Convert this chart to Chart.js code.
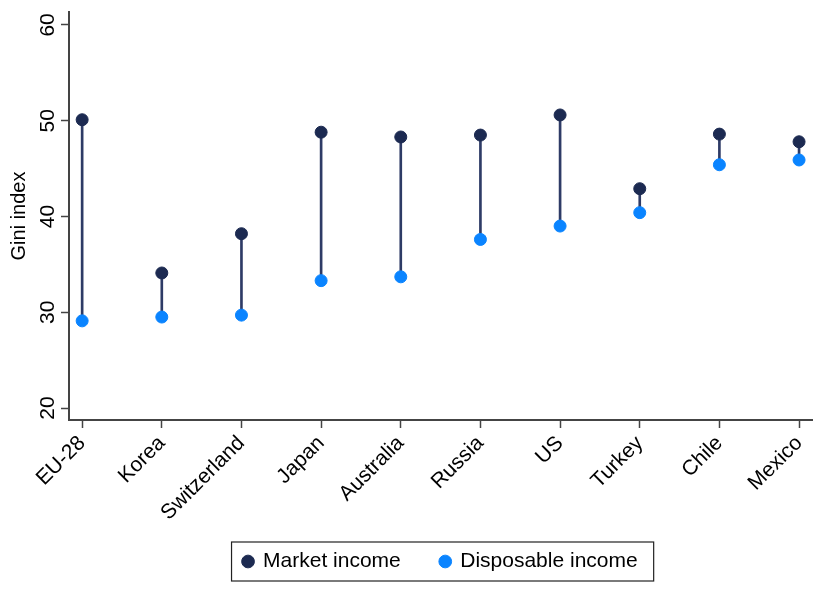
<!DOCTYPE html>
<html>
<head>
<meta charset="utf-8">
<script src="https://cdn.jsdelivr.net/npm/chart.js@4"></script>
<style>
  html, body { margin: 0; padding: 0; background: #fff; }
  #wrap { width: 820px; height: 598px; }
</style>
</head>
<body>
<div id="wrap"><canvas id="myChart"></canvas></div>
<script>
const countries = ['EU-28', 'Korea', 'Switzerland', 'Japan', 'Australia', 'Russia', 'US', 'Turkey', 'Chile', 'Mexico'];
const marketIncome = [50.1, 34.1, 38.2, 48.8, 48.3, 48.5, 50.6, 42.9, 48.6, 47.8];
const disposableIncome = [29.1, 29.5, 29.7, 33.3, 33.7, 37.6, 39.0, 40.4, 45.4, 45.9];
const yTicks = [20, 30, 40, 50, 60];

const FONT = 'Liberation Sans, Arial, sans-serif';
const axisColor = '#444';

// y tick labels are drawn rotated, like the original
const rotatedYLabels = {
    id: 'rotatedYLabels',
    afterDraw(chart) {
        const ctx = chart.ctx;
        const y = chart.scales.y;
        ctx.save();
        ctx.font = '21px ' + FONT;
        ctx.fillStyle = '#000';
        ctx.textAlign = 'center';
        ctx.textBaseline = 'middle';
        yTicks.forEach(v => {
            ctx.save();
            ctx.translate(48, y.getPixelForValue(v));
            ctx.rotate(-Math.PI / 2);
            ctx.fillText(String(v), 0, 0);
            ctx.restore();
        });
        ctx.restore();
    }
};

// centre the legend under the plot area, lift it a bit and frame it
const legendFrame = {
    id: 'legendFrame',
    afterLayout(chart) {
        const lg = chart.legend;
        const shift = (chart.chartArea.left + chart.chartArea.right) / 2 - (lg.left + lg.right) / 2;
        lg.left += shift;
        lg.right += shift;
        lg.top -= 9;
        lg.bottom -= 9;
    },
    afterDraw(chart) {
        const boxes = chart.legend.legendHitBoxes;
        if (!boxes || !boxes.length) return;
        const left = Math.min(...boxes.map(b => b.left)) - 12;
        const right = Math.max(...boxes.map(b => b.left + b.width)) + 16;
        const top = Math.min(...boxes.map(b => b.top));
        const bottom = Math.max(...boxes.map(b => b.top + b.height));
        const mid = (top + bottom) / 2;
        const ctx = chart.ctx;
        ctx.save();
        ctx.strokeStyle = '#222';
        ctx.lineWidth = 1.2;
        ctx.strokeRect(left, mid - 19.5, right - left, 39);
        ctx.restore();
    }
};

const ctx = document.getElementById('myChart');

new Chart(ctx, {
    data: {
        datasets: [
            {
                type: 'bar',
                label: 'range',
                data: countries.map((c, i) => ({ x: i, y: [disposableIncome[i], marketIncome[i]] })),
                backgroundColor: '#2e3b66',
                barThickness: 2,
                order: 3
            },
            {
                type: 'scatter',
                label: 'Market income',
                data: countries.map((c, i) => ({ x: i, y: marketIncome[i] })),
                backgroundColor: '#1c2a51',
                borderColor: '#1c2a51',
                pointRadius: 6,
                borderWidth: 1,
                order: 2
            },
            {
                type: 'scatter',
                label: 'Disposable income',
                data: countries.map((c, i) => ({ x: i, y: disposableIncome[i] })),
                backgroundColor: '#0a84ff',
                borderColor: '#0a84ff',
                pointRadius: 6,
                borderWidth: 1,
                order: 1
            }
        ]
    },
    options: {
        responsive: true,
        maintainAspectRatio: false,
        animation: false,
        events: [],
        layout: { padding: { top: 12, right: 6, left: 0, bottom: 7 } },
        plugins: {
            tooltip: { enabled: false },
            legend: {
                position: 'bottom',
                labels: {
                    filter: item => item.text !== 'range',
                    sort: (a, b) => a.datasetIndex - b.datasetIndex,
                    usePointStyle: true,
                    pointStyle: 'circle',
                    boxHeight: 9,
                    boxWidth: 9,
                    padding: 40,
                    color: '#000',
                    font: { family: FONT, size: 21 }
                }
            }
        },
        scales: {
            x: {
                type: 'linear',
                offset: false,
                min: -0.165,
                max: 9.165,
                afterBuildTicks: scale => {
                    scale.ticks = countries.map((c, i) => ({ value: i }));
                },
                afterFit: scale => { scale.height = 100; },
                grid: { offset: false, drawOnChartArea: false, tickLength: 8, tickColor: axisColor, tickWidth: 1.5 },
                border: { color: axisColor, width: 2 },
                ticks: {
                    autoSkip: false,
                    minRotation: 45,
                    maxRotation: 45,
                    padding: 3,
                    color: '#000',
                    font: { family: FONT, size: 21 },
                    callback: v => countries[v]
                }
            },
            y: {
                min: 18.75,
                max: 61.35,
                afterBuildTicks: scale => {
                    scale.ticks = yTicks.map(v => ({ value: v }));
                },
                afterFit: scale => { scale.width = 69; },
                grid: { drawOnChartArea: false, tickLength: 8, tickColor: axisColor, tickWidth: 1.5 },
                border: { color: axisColor, width: 2 },
                ticks: { callback: () => '' },
                title: {
                    display: true,
                    text: 'Gini index',
                    color: '#000',
                    padding: { top: 7, bottom: 4 },
                    font: { family: FONT, size: 20 }
                }
            }
        }
    },
    plugins: [rotatedYLabels, legendFrame]
});
</script>
</body>
</html>
